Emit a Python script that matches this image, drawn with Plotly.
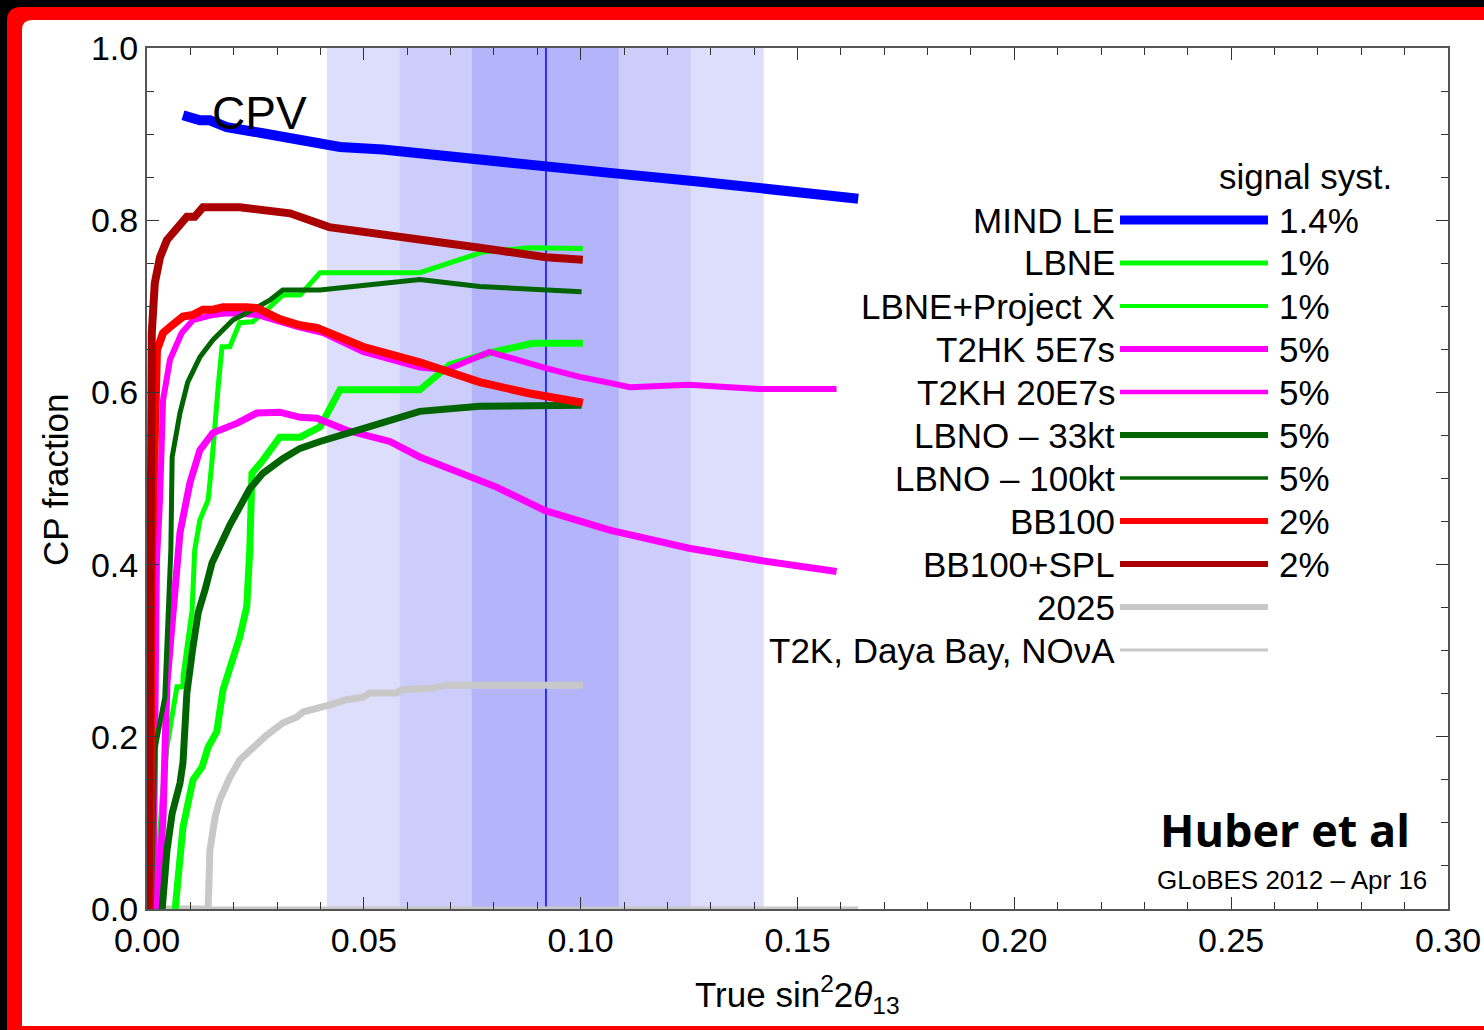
import plotly.graph_objects as go

# ---- data: CP violation discovery fraction vs true sin^2(2 theta13) ----
mind_le_x = [0.0083, 0.0122, 0.0145, 0.0184, 0.0267, 0.0369, 0.0445, 0.0544, 0.0652, 0.0767, 0.0917, 0.1067, 0.127, 0.145, 0.164]
mind_le_y = [0.922, 0.916, 0.916, 0.908, 0.901, 0.893, 0.885, 0.882, 0.876, 0.870, 0.864, 0.855, 0.845, 0.835, 0.825]

lbne_x = [0.0065, 0.0083, 0.0106, 0.0127, 0.0141, 0.0161, 0.0175, 0.0214, 0.023, 0.0237, 0.0242, 0.0267, 0.0306, 0.0353, 0.0399, 0.0445, 0.0629, 0.0698, 0.079, 0.089, 0.1005]
lbne_y = [0.0, 0.095, 0.150, 0.165, 0.188, 0.206, 0.254, 0.316, 0.351, 0.417, 0.506, 0.521, 0.548, 0.548, 0.560, 0.603, 0.603, 0.632, 0.646, 0.657, 0.657]

lbne_px_x = [0.0018, 0.0025, 0.0035, 0.0046, 0.0058, 0.0069, 0.0083, 0.0083, 0.0104, 0.011, 0.0122, 0.0141, 0.015, 0.0157, 0.0164, 0.0173, 0.0191, 0.0214, 0.0244, 0.0283, 0.0313, 0.0353, 0.0399, 0.0629, 0.0774, 0.0882, 0.1005]
lbne_px_y = [0.0, 0.06, 0.13, 0.188, 0.223, 0.258, 0.258, 0.27, 0.347, 0.417, 0.452, 0.475, 0.521, 0.568, 0.606, 0.653, 0.653, 0.681, 0.682, 0.699, 0.713, 0.713, 0.739, 0.739, 0.763, 0.768, 0.767]

t2hk_5e7_x = [0.0025, 0.0037, 0.0046, 0.0058, 0.0069, 0.0076, 0.0099, 0.0122, 0.0152, 0.0207, 0.0253, 0.0306, 0.0353, 0.0392, 0.046, 0.056, 0.0629, 0.0728, 0.0806, 0.0917, 0.1005, 0.1067, 0.125, 0.1412, 0.159]
t2hk_5e7_y = [0.0, 0.107, 0.262, 0.339, 0.417, 0.437, 0.495, 0.533, 0.553, 0.564, 0.576, 0.577, 0.571, 0.570, 0.556, 0.543, 0.525, 0.506, 0.490, 0.463, 0.450, 0.440, 0.419, 0.405, 0.392]

t2kh_20e7_x = [0.0015, 0.0023, 0.003, 0.0037, 0.0053, 0.008, 0.0106, 0.0152, 0.0184, 0.0253, 0.0346, 0.0406, 0.0498, 0.0629, 0.069, 0.079, 0.0922, 0.0998, 0.1067, 0.1113, 0.125, 0.141, 0.159]
t2kh_20e7_y = [0.0, 0.405, 0.475, 0.591, 0.638, 0.669, 0.684, 0.690, 0.692, 0.690, 0.676, 0.669, 0.647, 0.629, 0.626, 0.647, 0.628, 0.618, 0.611, 0.606, 0.609, 0.604, 0.604]

lbno_33_x = [0.0035, 0.0046, 0.0058, 0.0076, 0.0083, 0.0092, 0.0105, 0.0118, 0.0134, 0.015, 0.0191, 0.0237, 0.0267, 0.0313, 0.0353, 0.0399, 0.0498, 0.0629, 0.0767, 0.1002]
lbno_33_y = [0.0, 0.068, 0.111, 0.146, 0.170, 0.251, 0.301, 0.344, 0.371, 0.402, 0.446, 0.488, 0.506, 0.523, 0.535, 0.543, 0.558, 0.578, 0.584, 0.585]

lbno_100_x = [0.001, 0.0015, 0.0018, 0.0041, 0.0048, 0.0055, 0.0058, 0.0076, 0.0094, 0.0122, 0.0152, 0.0198, 0.0244, 0.0283, 0.0313, 0.0399, 0.0629, 0.0767, 0.1002]
lbno_100_y = [0.0, 0.10, 0.185, 0.246, 0.339, 0.417, 0.525, 0.576, 0.612, 0.641, 0.661, 0.684, 0.696, 0.707, 0.719, 0.719, 0.731, 0.723, 0.717]

bb100_x = [0.0007, 0.0011, 0.0023, 0.0037, 0.0053, 0.0083, 0.0106, 0.0129, 0.0152, 0.0175, 0.023, 0.0253, 0.0306, 0.0353, 0.0392, 0.0498, 0.0629, 0.069, 0.0767, 0.088, 0.1005]
bb100_y = [0.0, 0.405, 0.649, 0.669, 0.676, 0.688, 0.690, 0.696, 0.696, 0.699, 0.699, 0.698, 0.685, 0.678, 0.675, 0.653, 0.635, 0.624, 0.612, 0.599, 0.588]

bb100_spl_x = [0.0004, 0.0007, 0.0011, 0.0018, 0.003, 0.0046, 0.0069, 0.0092, 0.011, 0.0129, 0.0214, 0.033, 0.042, 0.046, 0.0576, 0.0767, 0.092, 0.1005]
bb100_spl_y = [0.0, 0.405, 0.669, 0.727, 0.757, 0.777, 0.792, 0.804, 0.804, 0.815, 0.815, 0.808, 0.792, 0.789, 0.781, 0.768, 0.757, 0.754]

y2025_x = [0.0, 0.0141, 0.0145, 0.0157, 0.0168, 0.0191, 0.0214, 0.0244, 0.0276, 0.0313, 0.0346, 0.036, 0.0399, 0.0422, 0.046, 0.0498, 0.0514, 0.0576, 0.059, 0.0652, 0.0691, 0.1005]
y2025_y = [0.0, 0.0, 0.068, 0.107, 0.127, 0.153, 0.173, 0.188, 0.202, 0.216, 0.223, 0.229, 0.233, 0.237, 0.243, 0.246, 0.251, 0.251, 0.255, 0.256, 0.260, 0.260]

current_x = [0.0, 0.164]
current_y = [0.0, 0.0]

# theta13 best fit and 1/2/3 sigma ranges
theta_best = 0.092
sigma_bands = [(0.0415, 0.1422), (0.0583, 0.1253), (0.0749, 0.1088)]
band_colors = ["rgb(221,221,252)", "rgb(205,205,251)", "rgb(180,180,251)"]

x_ticks = [0.0, 0.05, 0.10, 0.15, 0.20, 0.25, 0.30]
y_ticks = [0.0, 0.2, 0.4, 0.6, 0.8, 1.0]

# (label, syst, x, y, colour, plot width, legend width)
series = [
    ("T2K, Daya Bay, NO\u03bdA", "", current_x, current_y, "#c8c8c8", 5, 3),
    ("2025", "", y2025_x, y2025_y, "#c8c8c8", 7, 6),
    ("LBNE", "1%", lbne_x, lbne_y, "#00ff00", 7, 5),
    ("LBNE+Project X", "1%", lbne_px_x, lbne_px_y, "#00ff00", 5, 4),
    ("T2HK 5E7s", "5%", t2hk_5e7_x, t2hk_5e7_y, "#ff00ff", 7, 6),
    ("T2KH 20E7s", "5%", t2kh_20e7_x, t2kh_20e7_y, "#ff00ff", 6, 4.5),
    ("LBNO \u2013 33kt", "5%", lbno_33_x, lbno_33_y, "#006400", 7, 6),
    ("LBNO \u2013 100kt", "5%", lbno_100_x, lbno_100_y, "#006400", 5, 3.5),
    ("BB100", "2%", bb100_x, bb100_y, "#ff0000", 8, 6),
    ("BB100+SPL", "2%", bb100_spl_x, bb100_spl_y, "#aa0000", 8, 6),
    ("MIND LE", "1.4%", mind_le_x, mind_le_y, "#0000ff", 10, 9),
]
legend_order = ["MIND LE", "LBNE", "LBNE+Project X", "T2HK 5E7s", "T2KH 20E7s",
                "LBNO \u2013 33kt", "LBNO \u2013 100kt", "BB100", "BB100+SPL",
                "2025", "T2K, Daya Bay, NO\u03bdA"]

W, H = 1484, 1030
ML, MR, MT, MB = 147, 36, 48, 121
PW, PH = W - ML - MR, H - MT - MB


def fx(px):
    return (px - ML) / PW


def fy(py):
    return (H - MB - py) / PH


FONT = "Liberation Sans, Arial, Helvetica, sans-serif"
TXT = 35

fig = go.Figure()
for name, syst, xs, ys, col, w, lw in series:
    fig.add_trace(go.Scatter(x=xs, y=ys, mode="lines", name=name,
                             line=dict(color=col, width=w), showlegend=False,
                             hoverinfo="skip"))

shapes = []


# page frame: black edge, red border, white card
def card(x0, y0, x1, y1, r, color):
    rx, ry = r / PW, r / PH
    X0, X1, Y0, Y1 = fx(x0), fx(x1), fy(y1), fy(y0)
    path = (f"M {X0},{Y0} L {X0},{Y1 - ry} Q {X0},{Y1} {X0 + rx},{Y1} "
            f"L {X1},{Y1} L {X1},{Y0} Z")
    return dict(type="path", path=path, xref="paper", yref="paper",
                fillcolor=color, line=dict(width=0), layer="below")


shapes.append(card(7, 7, 1495, 1040, 14, "#ff0000"))
shapes.append(card(22, 20, 1495, 1026, 10, "#ffffff"))

for (a, b), c in zip(sigma_bands, band_colors):
    shapes.append(dict(type="rect", xref="x", yref="y", x0=a, x1=b, y0=0, y1=1,
                       fillcolor=c, line=dict(width=0), layer="below"))
shapes.append(dict(type="line", xref="x", yref="y", x0=theta_best, x1=theta_best,
                   y0=0, y1=1, line=dict(color="#0000ff", width=1.5), layer="below"))

annotations = []
lookup = {s[0]: s for s in series}
row0, dy = 220, 43
for i, name in enumerate(legend_order):
    _, syst, _, _, col, w, lw = lookup[name]
    py = row0 + i * dy
    shapes.append(dict(type="line", xref="paper", yref="paper",
                       x0=fx(1120), x1=fx(1268), y0=fy(py), y1=fy(py),
                       line=dict(color=col, width=lw)))
    annotations.append(dict(text=name, xref="paper", yref="paper", x=fx(1117), y=fy(py),
                            xanchor="right", yanchor="middle", showarrow=False,
                            font=dict(family=FONT, size=TXT, color="black")))
    if syst:
        annotations.append(dict(text=syst, xref="paper", yref="paper", x=fx(1277), y=fy(py),
                                xanchor="left", yanchor="middle", showarrow=False,
                                font=dict(family=FONT, size=TXT, color="black")))

annotations += [
    dict(text="signal syst.", xref="paper", yref="paper", x=fx(1305), y=fy(176),
         xanchor="center", yanchor="middle", showarrow=False,
         font=dict(family=FONT, size=TXT, color="black")),
    dict(text="CPV", xref="paper", yref="paper", x=fx(210), y=fy(113),
         xanchor="left", yanchor="middle", showarrow=False,
         font=dict(family=FONT, size=46, color="black")),
    dict(text="<b>Huber et al</b>", xref="paper", yref="paper", x=fx(1412), y=fy(829),
         xanchor="right", yanchor="middle", showarrow=False,
         font=dict(family="Open Sans, Liberation Sans, sans-serif", size=45, color="black")),
    dict(text="GLoBES 2012 \u2013 Apr 16", xref="paper", yref="paper", x=fx(1429), y=fy(880),
         xanchor="right", yanchor="middle", showarrow=False,
         font=dict(family=FONT, size=26, color="black")),
    dict(text="CP fraction", xref="paper", yref="paper", x=fx(55), y=fy(480),
         xanchor="center", yanchor="middle", textangle=-90, showarrow=False,
         font=dict(family=FONT, size=TXT, color="black")),
    dict(text="True sin<sup>2</sup>2<i>\u03b8</i><sub>13</sub>", xref="paper", yref="paper",
         x=fx(797), y=fy(994), xanchor="center", yanchor="middle", showarrow=False,
         font=dict(family=FONT, size=TXT, color="black")),
]

axis_common = dict(showgrid=False, zeroline=False, showline=True, linecolor="#555555",
                   linewidth=2, mirror="ticks", ticks="inside", tickcolor="#333333",
                   tickwidth=1, ticklen=12, automargin=False,
                   tickfont=dict(family=FONT, size=34, color="black"))

fig.update_layout(
    width=W, height=H,
    margin=dict(l=ML, r=MR, t=MT, b=MB, pad=0, autoexpand=False),
    paper_bgcolor="black", plot_bgcolor="rgba(0,0,0,0)",
    xaxis=dict(range=[0, 0.30], tickvals=x_ticks, ticktext=[f"{v:.2f}" for v in x_ticks],
               minor=dict(dtick=0.01, ticks="inside", ticklen=7, tickcolor="#333333",
                          tickwidth=1, showgrid=False),
               **axis_common),
    yaxis=dict(range=[0, 1.0], tickvals=y_ticks, ticktext=[f"{v:.1f}" for v in y_ticks],
               minor=dict(dtick=0.05, ticks="inside", ticklen=7, tickcolor="#333333",
                          tickwidth=1, showgrid=False),
               **axis_common),
    shapes=shapes,
    annotations=annotations,
    showlegend=False,
)

fig.write_html("out.html")
